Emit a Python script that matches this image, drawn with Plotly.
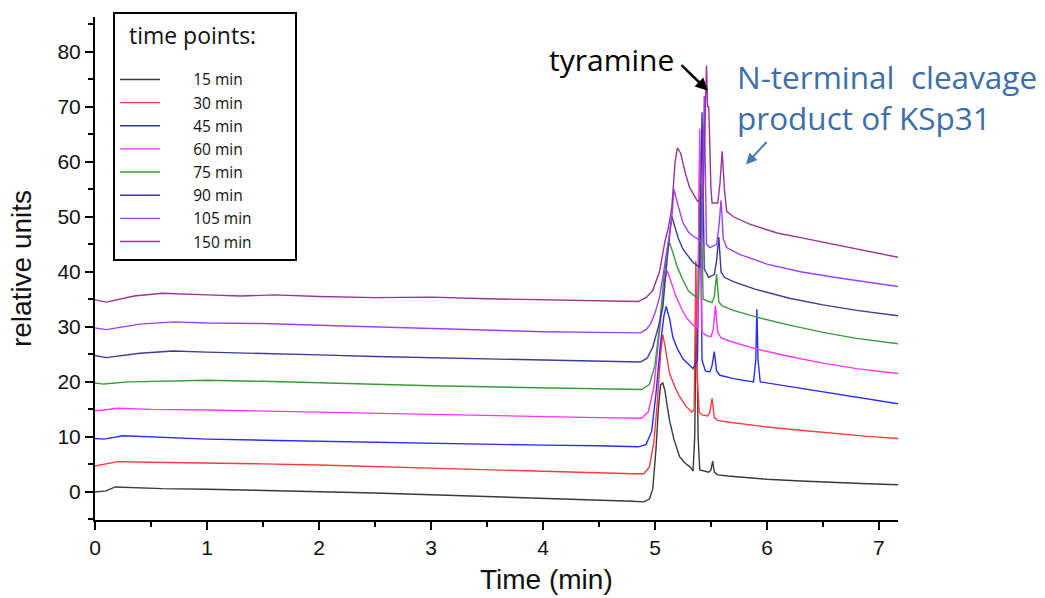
import plotly.graph_objects as go

# ---------------- data ----------------
series_names = ["15 min", "30 min", "45 min", "60 min", "75 min", "90 min", "105 min", "150 min"]
series_colors = ["#3a3a3a", "#ff3b3b", "#2b2bff", "#ff33ff", "#3a9a3a", "#3b3b99", "#9b40ff", "#993399"]

t_15 = [0, 0.1, 0.18, 0.3, 0.6, 1.0, 1.5, 2.0, 2.5, 3.0, 3.5, 4.0, 4.5, 4.8, 4.9, 4.95, 4.98, 5.01, 5.03, 5.05, 5.07, 5.09, 5.11, 5.13, 5.17, 5.22, 5.27, 5.31, 5.34, 5.355, 5.37, 5.385, 5.40, 5.44, 5.48, 5.5, 5.515, 5.53, 5.56, 5.65, 5.8, 6.0, 6.3, 6.6, 6.9, 7.18]
v_15 = [0, 0.2, 0.9, 0.8, 0.6, 0.5, 0.3, 0.1, -0.2, -0.5, -0.8, -1.1, -1.5, -1.7, -1.8, -1.3, 0.5, 8, 15, 19.5, 19.8, 18.3, 15.5, 13, 9.5, 6.4, 5.2, 4.6, 3.8, 10, 36, 10, 4.0, 3.8, 3.6, 4.0, 5.6, 3.6, 3.1, 2.9, 2.6, 2.3, 2.0, 1.7, 1.5, 1.3]

t_30 = [0, 0.08, 0.2, 0.5, 1.0, 1.5, 2.0, 2.5, 3.0, 3.5, 4.0, 4.5, 4.8, 4.9, 4.95, 4.99, 5.02, 5.05, 5.07, 5.09, 5.13, 5.18, 5.22, 5.28, 5.33, 5.35, 5.365, 5.38, 5.395, 5.42, 5.47, 5.49, 5.51, 5.53, 5.56, 5.65, 5.8, 6.0, 6.3, 6.6, 6.9, 7.18]
v_30 = [4.7, 5.0, 5.5, 5.4, 5.3, 5.1, 4.9, 4.6, 4.3, 4.0, 3.8, 3.5, 3.3, 3.3, 4.5, 9, 16, 25, 28.6, 26.5, 21.5, 19, 17.3, 15.5, 14.5, 15, 42, 20, 14.5, 14.0, 13.8, 14.5, 17, 13.5, 13.0, 12.7, 12.3, 11.8, 11.2, 10.6, 10.1, 9.7]

t_45 = [0, 0.08, 0.25, 0.5, 1.0, 1.5, 2.0, 2.5, 3.0, 3.5, 4.0, 4.5, 4.85, 4.92, 4.97, 5.01, 5.05, 5.08, 5.10, 5.13, 5.16, 5.2, 5.25, 5.3, 5.34, 5.38, 5.40, 5.42, 5.45, 5.49, 5.51, 5.53, 5.55, 5.58, 5.7, 5.88, 5.90, 5.91, 5.92, 5.94, 6.0, 6.3, 6.6, 6.9, 7.18]
v_45 = [9.7, 9.6, 10.2, 10.0, 9.6, 9.4, 9.2, 9.0, 8.8, 8.6, 8.5, 8.4, 8.2, 8.6, 11, 18, 27, 32, 33.7, 31.5, 28.1, 26, 24.2, 23.2, 22.4, 24, 62, 24, 22.0, 21.8, 23, 25.5, 22, 21.2, 20.6, 20.0, 24, 33.2, 24, 20.0, 19.8, 18.8, 17.8, 16.9, 16.0]

t_60 = [0, 0.08, 0.2, 0.5, 1.0, 1.5, 2.0, 2.5, 3.0, 3.5, 4.0, 4.5, 4.88, 4.94, 4.99, 5.03, 5.07, 5.09, 5.11, 5.14, 5.19, 5.24, 5.28, 5.34, 5.38, 5.40, 5.42, 5.46, 5.5, 5.52, 5.54, 5.56, 5.59, 5.7, 5.9, 6.2, 6.5, 6.8, 7.18]
v_60 = [14.8, 14.9, 15.2, 15.0, 14.9, 14.7, 14.5, 14.3, 14.0, 13.8, 13.6, 13.5, 13.4, 14.5, 19, 27, 36, 39, 40.2, 38.5, 35.4, 33.2, 31.7, 30.3, 29.8, 66, 29, 28.4, 28.2, 29.5, 33.8, 29, 28, 27.2, 26.0, 24.6, 23.4, 22.4, 21.5]

t_75 = [0, 0.08, 0.3, 0.6, 1.0, 1.5, 2.0, 2.5, 3.0, 3.5, 4.0, 4.5, 4.88, 4.95, 5.0, 5.04, 5.08, 5.11, 5.13, 5.16, 5.2, 5.25, 5.3, 5.36, 5.39, 5.41, 5.43, 5.47, 5.51, 5.53, 5.55, 5.57, 5.6, 5.7, 5.9, 6.2, 6.5, 6.8, 7.18]
v_75 = [19.8, 19.6, 20.0, 20.1, 20.3, 20.1, 19.8, 19.5, 19.3, 19.1, 18.9, 18.8, 18.6, 19.5, 23, 30, 39, 44, 45.3, 43.5, 40.8, 38.5, 36.5, 35.5, 35.2, 56, 35, 34.7, 34.4, 35.5, 39.6, 34.5, 33.8, 33.0, 31.8, 30.3, 29.0, 27.9, 26.9]

t_90 = [0, 0.1, 0.4, 0.7, 1.0, 1.5, 2.0, 2.5, 3.0, 3.5, 4.0, 4.5, 4.87, 4.93, 4.98, 5.03, 5.07, 5.11, 5.13, 5.15, 5.18, 5.21, 5.25, 5.3, 5.34, 5.40, 5.42, 5.44, 5.48, 5.53, 5.55, 5.57, 5.59, 5.62, 5.7, 5.9, 6.2, 6.5, 6.8, 7.18]
v_90 = [24.8, 24.4, 25.2, 25.6, 25.4, 25.2, 24.9, 24.6, 24.4, 24.2, 23.9, 23.7, 23.6, 24.3, 26.3, 30, 33.5, 42.6, 47, 50.1, 48, 46, 44.1, 42.8, 41.7, 40.8, 69, 40.5, 39, 39.5, 42, 46.3, 40, 39, 38.2, 36.8, 35.2, 34, 33, 32.0]

t_105 = [0, 0.1, 0.4, 0.7, 1.0, 1.5, 2.0, 2.5, 3.0, 3.5, 4.0, 4.5, 4.87, 4.92, 4.96, 5.0, 5.04, 5.07, 5.10, 5.13, 5.15, 5.17, 5.2, 5.25, 5.3, 5.34, 5.42, 5.44, 5.46, 5.49, 5.55, 5.57, 5.59, 5.61, 5.64, 5.75, 6.0, 6.3, 6.6, 6.9, 7.18]
v_105 = [29.8, 29.5, 30.5, 30.9, 30.7, 30.6, 30.3, 30.0, 29.6, 29.4, 29.1, 29.0, 28.9, 29.5, 30.5, 32.5, 35.3, 39, 42.6, 47, 49.8, 55, 52.5, 48.9, 47.2, 46.5, 45.5, 72, 45, 44.4, 45, 48, 53, 46, 44.4, 43.2, 41.4, 40, 39, 38.1, 37.3]

t_150 = [0, 0.1, 0.35, 0.6, 1.0, 1.3, 1.6, 2.0, 2.5, 3.0, 3.5, 4.0, 4.5, 4.85, 4.92, 4.98, 5.04, 5.09, 5.12, 5.15, 5.18, 5.20, 5.23, 5.27, 5.31, 5.38, 5.43, 5.45, 5.46, 5.47, 5.48, 5.5, 5.51, 5.56, 5.58, 5.60, 5.62, 5.64, 5.7, 5.85, 6.1, 6.3, 6.6, 6.9, 7.18]
v_150 = [34.9, 34.5, 35.6, 36.1, 35.8, 35.6, 35.8, 35.5, 35.3, 35.4, 35.1, 34.9, 34.7, 34.6, 35.3, 36.6, 40, 45.6, 48, 51.6, 60, 62.5, 61.5, 58, 55.3, 52.8, 53.5, 70, 77.5, 70, 70, 55, 52.5, 52.5, 56, 61.9, 55, 51, 50, 48.6, 47.0, 46.2, 45.0, 43.8, 42.6]

series_t = [t_15, t_30, t_45, t_60, t_75, t_90, t_105, t_150]
series_v = [v_15, v_30, v_45, v_60, v_75, v_90, v_105, v_150]

x_ticks = [0, 1, 2, 3, 4, 5, 6, 7]
y_ticks = [0, 10, 20, 30, 40, 50, 60, 70, 80]

# ---------------- figure ----------------
NB = "\u00a0"
fig = go.Figure()
for i, (name, color, tt, vv) in enumerate(zip(series_names, series_colors, series_t, series_v)):
    kw = {}
    if i == 0:
        kw["legendgrouptitle"] = dict(text=NB, font=dict(family="Open Sans, sans-serif", size=12))
    fig.add_trace(go.Scatter(x=tt, y=vv, mode="lines", name=NB * 7 + name,
                             legendgroup="tp", line=dict(color=color, width=1.4), **kw))

axis_font = dict(family="Liberation Sans, Arial, sans-serif", size=21, color="#111")

fig.update_layout(
    width=1045, height=598,
    margin=dict(l=95, r=147, t=15, b=78),
    paper_bgcolor="white", plot_bgcolor="white",
    showlegend=True,
    legend=dict(
        x=0.0224, y=1.01, xanchor="left", yanchor="top",
        bgcolor="white", bordercolor="black", borderwidth=2,
        font=dict(family="Open Sans, sans-serif", size=15.5, color="#111"),
        title=dict(text=NB * 2 + "time points:" + NB * 6,
                   font=dict(family="Open Sans, sans-serif", size=23, color="#111")),
        itemwidth=40,
    ),
    xaxis=dict(
        range=[0, 7.17], tickvals=x_ticks, ticktext=[str(v) for v in x_ticks],
        showline=True, linecolor="black", linewidth=2,
        ticks="outside", ticklen=8, tickwidth=1.5, tickcolor="black",
        minor=dict(dtick=0.5, tick0=0, ticks="outside", ticklen=5, tickwidth=1.5, tickcolor="black"),
        showgrid=False, zeroline=False, tickfont=axis_font,
    ),
    yaxis=dict(
        range=[-5.1, 86.3], tickvals=y_ticks, ticktext=[str(v) for v in y_ticks],
        showline=True, linecolor="black", linewidth=2,
        ticks="outside", ticklen=8, tickwidth=1.5, tickcolor="black",
        minor=dict(dtick=5, tick0=0, ticks="outside", ticklen=5, tickwidth=1.5, tickcolor="black"),
        showgrid=False, zeroline=False, tickfont=axis_font,
        title=dict(text="relative units", font=dict(family="Liberation Sans, Arial, sans-serif", size=28, color="#111"), standoff=18),
    ),
)

# x-axis title (sits right of centre in the reference)
fig.add_annotation(x=0.562, y=-0.119, xref="paper", yref="paper", text="Time (min)", showarrow=False,
                   xanchor="center", yanchor="middle",
                   font=dict(family="Liberation Sans, Arial, sans-serif", size=28, color="#111"))

# annotations
fig.add_annotation(x=4.616, y=78.55, xref="x", yref="y", text="tyramine", showarrow=False,
                   xanchor="center", yanchor="middle",
                   font=dict(family="Open Sans, sans-serif", size=30, color="black"))
fig.add_annotation(x=5.473, y=72.9, xref="x", yref="y", text="", showarrow=True,
                   ax=-28, ay=-27, arrowhead=2, arrowsize=1, arrowwidth=2.5, arrowcolor="black")
fig.add_annotation(x=5.714, y=71.7, xref="x", yref="y",
                   text="N-terminal  cleavage<br>product of KSp31", showarrow=False,
                   xanchor="left", yanchor="middle", align="left",
                   font=dict(family="Open Sans, sans-serif", size=31.5, color="#3d6eaa"))
fig.add_annotation(x=5.8125, y=59.5, xref="x", yref="y", text="", showarrow=True,
                   ax=22, ay=-24, arrowhead=2, arrowsize=1.1, arrowwidth=2, arrowcolor="#4a7ab5")

fig.write_html("out.html")
